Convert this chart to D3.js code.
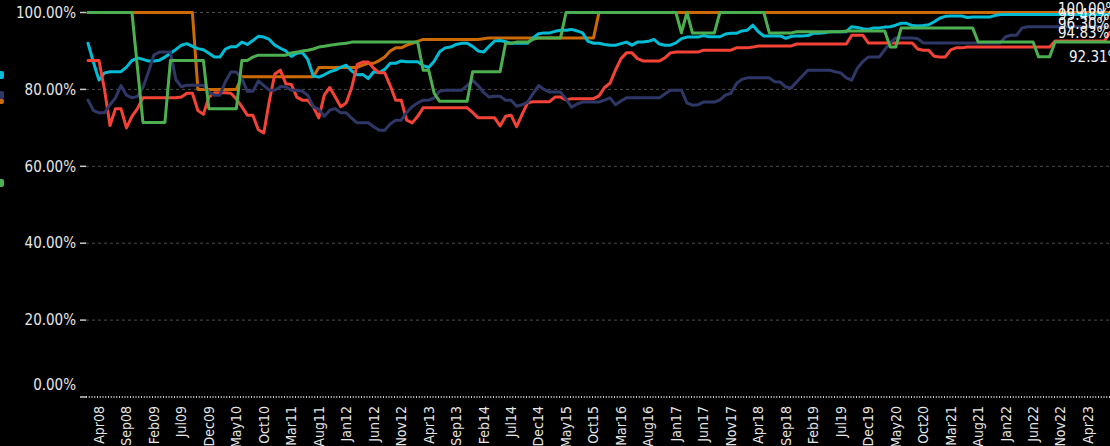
<!DOCTYPE html>
<html>
<head>
<meta charset="utf-8">
<script src="https://cdn.jsdelivr.net/npm/d3@7/dist/d3.min.js"></script>
<style>
  html, body { margin: 0; padding: 0; background: #000; overflow: hidden; }
  svg { display: block; }
  text { font-family: "DejaVu Sans Condensed", "DejaVu Sans", sans-serif; font-stretch: condensed; }
</style>
</head>
<body>
<svg id="chart" width="1110" height="446"></svg>
<script>
// Monthly categories, Feb 2008 .. Aug 2023
const monthNames = ["Jan","Feb","Mar","Apr","May","Jun","Jul","Aug","Sep","Oct","Nov","Dec"];
const firstYear = 2008, firstMonth = 1, monthCount = 187;
const categories = [];
for (let k = 0; k < monthCount; k++) {
  const m = (firstMonth + k) % 12;
  const y = firstYear + Math.floor((firstMonth + k) / 12);
  categories.push(monthNames[m] + String(y % 100).padStart(2, "0"));
}

const yTicks = [0, 20, 40, 60, 80, 100];

const orangeValues = [
  100,100,100,100,100,100,100,100,100,100,
  100,100,100,100,100,100,100,100,100,100,
  80,80,80,80,80,80,80,80,83.3,83.3,
  83.3,83.3,83.3,83.3,83.3,83.3,83.3,83.3,83.3,83.3,
  83.3,83.3,85.7,85.7,85.7,85.7,85.7,85.7,85.7,85.7,
  86.3,86.8,86.8,87.5,88.4,90,90.8,90.8,91.5,92,
  92.5,93,93,93,93,93,93,93,93,93,
  93,93,93.2,93.4,93.4,93.4,93.4,93.4,93.4,93.4,
  93.4,93.4,93.4,93.4,93.4,93.4,93.4,93.4,93.4,93.4,
  93.4,93.4,93.4,100,100,100,100,100,100,100,
  100,100,100,100,100,100,100,100,100,100,
  100,100,100,100,100,100,100,100,100,100,
  100,100,100,100,100,100,100,100,100,100,
  100,100,100,100,100,100,100,100,100,100,
  100,100,100,100,100,100,100,100,100,100,
  100,100,100,100,100,100,100,100,100,100,
  100,100,100,100,100,100,100,100,100,100,
  100,100,100,100,100,100,100,100,100,100,
  100,100,100,100,100,100,100
];

const greenValues = [
  100,100,100,100,100,100,100,100,100,85.7,
  71.4,71.4,71.4,71.4,71.4,87.5,87.5,87.5,87.5,87.5,
  87.5,87.5,75,75,75,75,75,75,87.5,87.5,
  88.4,88.9,88.9,88.9,88.9,88.9,88.9,89.5,89.7,90,
  90.2,90.5,91,91.2,91.5,91.7,91.9,92,92.3,92.3,
  92.3,92.3,92.3,92.3,92.3,92.3,92.3,92.3,92.3,92.3,
  92.3,85,85,79,76.9,76.9,76.9,76.9,76.9,76.9,
  84.6,84.6,84.6,84.6,84.6,84.6,92,92,92.3,92.3,
  92.3,93,93.4,93.4,93.4,93.4,93.4,100,100,100,
  100,100,100,100,100,100,100,100,100,100,
  100,100,100,100,100,100,100,100,94.7,100,
  94.7,94.7,94.7,94.7,94.7,100,100,100,100,100,
  100,100,100,100,94.7,94.7,94.7,94.7,94.7,95,
  95,95,95,95,95,95,95,95,95.2,95.2,
  95.2,95.2,95.2,95.2,95.2,95.2,91,91,96,96,
  96,96,96,96,96,96,96,96,96,96,
  96,96,92.31,92.31,92.31,92.31,92.31,92.31,92.31,92.31,
  92.31,92.31,92.31,88.46,88.46,88.46,92.31,92.31,92.31,92.31,
  92.31,92.31,92.31,92.31,92.31,92.31,92.31
];

const cyanValues = [
  92,87,82.4,84.3,84.6,84.6,84.6,85.8,87.5,88.2,
  87.8,87.4,87.4,87.6,88.4,89.4,90.4,91.5,91.9,91.2,
  90.6,90.3,89.4,88.4,88.4,90.5,91.1,91.1,92.3,91.7,
  92.7,93.8,93.6,93,91.5,90.7,90,88.6,89.4,89.6,
  87.8,83.5,83.2,83.8,84.6,85,85.8,86.3,84.8,83.8,
  83.9,82.8,84.6,84.4,85.2,86.8,86.8,87.4,87.2,87.2,
  87.2,86.2,85.7,87.3,89.8,90.8,91,91.7,92,92,
  91.2,90,89.7,91.2,92.6,92.7,92.4,92,92,92,
  92,93.4,94.5,94.7,94.7,95.1,95.4,95.4,95.6,95.2,
  94.7,92.5,92,92,91.7,91.5,91.5,91.9,92.3,91.5,
  92.3,92.3,92.5,93,91.8,91.5,91.5,92.1,93.2,93.6,
  93.6,93.6,94,93.7,93.7,93.7,94.4,94.6,94.6,95.2,
  95.4,96.7,95,93.9,93.9,93.9,93.9,93.3,93.8,93.9,
  93.9,94,94.6,94.6,94.7,95,95,95,95,96.3,
  96.1,95.8,95.6,96,96,96.2,96.3,96.7,97.2,97.2,
  96.6,96.5,96.6,96.8,97.6,98.5,99,99.1,99.1,99.1,
  98.7,98.8,98.8,98.8,98.8,99.2,99.5,99.5,99.5,99.5,
  99.5,99.5,99.5,99.5,99.5,99.5,99.5,99.5,99.5,99.5,
  99.5,99.5,99.5,99.5,99.5,99.5,99.48
];

const redValues = [
  87.5,87.5,87.5,80,70.6,75,75,70,73,75,
  77.8,77.8,77.8,77.8,77.8,77.8,77.8,78,79,79,
  74.5,73.5,78,79.1,79.1,79.1,79,77.5,75.5,73.3,
  73.3,69.5,68.7,77,84,85,81.5,81.3,78,77.2,
  77.2,75.5,72.6,78.5,80.5,78,75.5,76.5,80.5,86.5,
  87.1,87.1,85.5,84.3,84.3,81,77.2,77.2,72,71.3,
  73,75.2,75.2,75.2,75.2,75.2,75.2,75.2,75.2,75.2,
  74,72.6,72.6,72.6,72.6,70.5,73,73.3,70.3,73.5,
  76.5,76.8,76.8,76.8,76.8,78,78,77.3,77.6,77.6,
  77.6,77.6,77.6,78.3,80.5,81.6,85,88,89.5,89.5,
  88,87.4,87.4,87.4,87.4,88.2,89.5,89.7,89.7,89.7,
  89.7,89.7,90.2,90.2,90.2,90.2,90.2,90.2,90.8,90.8,
  90.8,91,91.3,91.3,91.3,91.3,91.3,91.3,91.3,91.8,
  91.8,91.8,91.8,91.8,91.8,91.8,91.8,91.8,91.8,94.1,
  94.1,94.1,92.1,92.1,92.1,92.1,92.1,92.1,92.1,92.1,
  92.1,90.5,90.2,90.2,88.6,88.4,88.4,90.3,90.8,90.8,
  91,91,91,91,91,91,91,91,91,91,
  91,91,91,91,91,91,92.6,92.6,92.6,92.6,
  92.6,92.6,92.6,92.6,92.6,92.6,94.83
];

const navyValues = [
  77.2,74.5,73.9,73.9,76,77.8,81,78.5,77.8,78.2,
  80.5,84.5,89,89.7,89.7,89.7,82.5,80.7,81.1,81.1,
  81.1,81.1,79.3,78.5,78.5,82,84.5,84.5,82.8,79.5,
  79.5,82.2,81,79.8,79.8,80.7,80.7,79.8,79.8,79.5,
  78.5,75.5,74.8,73,74.6,75,73.9,73.9,72.5,71.3,
  71.3,71.3,70.3,69.4,69.4,71,72,72,74,75.5,
  76.5,77.2,77.2,77.8,79.5,79.8,79.8,79.8,79.8,81,
  82.4,81,79.2,78,78.2,78.2,77.2,77.2,75.6,76,
  76.7,78.9,81,80,79.3,79.3,79.3,77.5,75.4,76.2,
  76.7,76.7,76.7,76.7,77.2,77.8,76,77,77.8,77.8,
  77.8,77.8,77.8,77.8,77.8,78.8,79.8,79.8,79.8,76.5,
  75.9,76,76.7,76.7,76.7,77.3,78.5,79,81.5,82.6,
  83,83,83,83,83,82,81.9,80.6,80.4,82,
  83.5,85,85,85,85,85,84.6,84.3,83,82.4,
  85.5,87.2,88.4,88.4,88.4,90.3,92.1,93.4,93.4,93.4,
  93.4,93.2,92.1,92.1,92.1,92.1,92.1,92.1,92.1,92.1,
  92.1,92.1,92.1,92.1,92.1,92.1,92.1,93.7,94.1,94.1,
  96,96.3,96.3,96.3,96.3,96.3,96.3,96.3,96.3,96.3,
  96.3,96.3,96.3,96.3,96.3,96.3,96.3
];

// Drawing order (later series sit on top), colours and end-label nudges
const seriesList = [
  { name: "orange", values: orangeValues, color: "#cc6a06", labelDy: -4 },
  { name: "cyan",   values: cyanValues,   color: "#00bcd4", labelDy: 0 },
  { name: "red",    values: redValues,    color: "#f44336", labelDy: 0 },
  { name: "navy",   values: navyValues,   color: "#2f3766", labelDy: -3 },
  { name: "green",  values: greenValues,  color: "#4caf50", labelDy: 15 }
];

const svg = d3.select("#chart");
const W = 1110, H = 446;
svg.append("rect").attr("width", W).attr("height", H).attr("fill", "#000");

const plotLeft = 88, plotRight = 1110, plotTop = 12.5, plotBottom = 397;
const x = d3.scalePoint().domain(categories).range([plotLeft, plotRight]);
const y = d3.scaleLinear().domain([0, 100]).range([plotBottom, plotTop]);

// Horizontal grid
svg.append("g").selectAll("line")
  .data(yTicks.filter(t => t > 0))
  .join("line")
  .attr("x1", plotLeft - 2).attr("x2", plotRight)
  .attr("y1", d => y(d)).attr("y2", d => y(d))
  .attr("stroke", "#4d4d4d").attr("stroke-width", 1)
  .attr("stroke-dasharray", "3,3");

// Y axis: short ticks and percentage labels
const yAxis = svg.append("g");
yAxis.selectAll("line")
  .data(yTicks).join("line")
  .attr("x1", plotLeft - 8).attr("x2", plotLeft - 2)
  .attr("y1", d => y(d)).attr("y2", d => y(d))
  .attr("stroke", "#c8c8c8").attr("stroke-width", 1.5);
yAxis.selectAll("text")
  .data(yTicks).join("text")
  .attr("x", plotLeft - 12)
  .attr("y", d => y(d) - (d === 0 ? 12 : 0))
  .attr("dy", "0.35em")
  .attr("text-anchor", "end")
  .attr("fill", "#e6e6e6")
  .attr("font-size", 15)
  .text(d => d.toFixed(2) + "%");

// X axis: dotted baseline with per-category ticks
svg.append("line")
  .attr("x1", plotLeft - 2).attr("x2", plotRight)
  .attr("y1", plotBottom).attr("y2", plotBottom)
  .attr("stroke", "#c8c8c8").attr("stroke-width", 2)
  .attr("stroke-dasharray", "1,1.75");

const labelled = categories.filter((c, i) => (i - 2) % 5 === 0 && i >= 2);
svg.append("g").selectAll("text")
  .data(labelled).join("text")
  .attr("transform", d => `translate(${x(d)},${plotBottom + 9}) rotate(-90)`)
  .attr("dy", "0.35em")
  .attr("text-anchor", "end")
  .attr("fill", "#e6e6e6")
  .attr("font-size", 14)
  .text(d => d);

// Series lines
const line = d3.line()
  .x((v, i) => x(categories[i]))
  .y(v => y(v));

svg.append("g").selectAll("path")
  .data(seriesList).join("path")
  .attr("d", s => line(s.values))
  .attr("fill", "none")
  .attr("stroke", s => s.color)
  .attr("stroke-width", 3)
  .attr("stroke-linejoin", "round")
  .attr("stroke-linecap", "round");

// End-of-line value labels
const endLabels = seriesList.slice().sort((a, b) => b.values[b.values.length - 1] - a.values[a.values.length - 1]);
svg.append("g").selectAll("text")
  .data(endLabels).join("text")
  .attr("x", s => s.name === "green" ? 1069 : 1058)
  .attr("y", s => y(s.values[s.values.length - 1]) + s.labelDy)
  .attr("dy", "0.35em")
  .attr("fill", "#f2f2f2")
  .attr("font-size", 15)
  .text(s => s.values[s.values.length - 1].toFixed(2) + "%");

// Legend swatches, clipped at the left edge
const legendMarks = [
  { color: "#00bcd4", y: 71, h: 8 },
  { color: "#2f3766", y: 91, h: 9 },
  { color: "#cc6a06", y: 99, h: 5 },
  { color: "#4caf50", y: 179, h: 8 }
];
svg.append("g").selectAll("rect")
  .data(legendMarks).join("rect")
  .attr("x", -6).attr("width", 10)
  .attr("y", d => d.y).attr("height", d => d.h)
  .attr("rx", 2)
  .attr("fill", d => d.color);
</script>
</body>
</html>
